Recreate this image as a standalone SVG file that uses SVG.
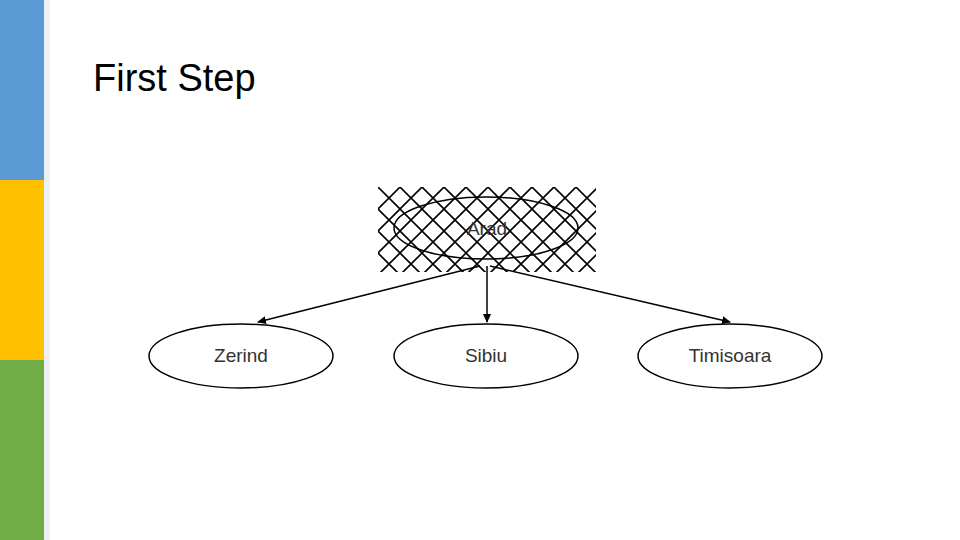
<svg xmlns="http://www.w3.org/2000/svg" width="960" height="540" viewBox="0 0 960 540">
<defs>
<pattern id="hatch" patternUnits="userSpaceOnUse" x="378" y="187" width="22" height="22">
<path d="M0,0 L22,22 M22,0 L0,22" stroke="#000" stroke-width="1.6"/>
</pattern>
<marker id="arr" markerWidth="10" markerHeight="10" refX="8" refY="5" orient="auto" markerUnits="userSpaceOnUse">
<path d="M0,1 L9,5 L0,9 Z" fill="#000"/>
</marker>
<style>
.n{fill:#fff;stroke:#000;stroke-width:1.5}
.t{font-family:"Liberation Sans",Arial,sans-serif;font-size:19px;fill:#333;text-anchor:middle}
.e{stroke:#000;stroke-width:1.5;fill:none}
</style>
</defs>
<rect width="960" height="540" fill="#fff"/>
<rect x="0" y="0" width="44" height="180" fill="#5b9bd5"/>
<rect x="0" y="180" width="44" height="180" fill="#ffc000"/>
<rect x="0" y="360" width="44" height="180" fill="#70ad47"/>
<rect x="44" y="0" width="6" height="540" fill="#dde7f0" opacity="0.6"/>
<text x="93" y="91" font-family="Liberation Sans,Arial,sans-serif" font-size="38" fill="#000">First Step</text>
<g id="connectors">
<line class="e" x1="480" y1="266" x2="258" y2="322" marker-end="url(#arr)"/>
<line class="e" x1="487" y1="266" x2="487" y2="322" stroke-width="2.5" marker-end="url(#arr)"/>
<line class="e" x1="490" y1="266" x2="730" y2="322" marker-end="url(#arr)"/>
</g>
<g id="arad">
<rect x="378" y="187" width="218" height="85" fill="url(#hatch)"/>
<ellipse cx="486" cy="228" rx="92" ry="31" class="e"/>
<text class="t" x="487" y="235" fill="#888">Arad</text>
</g>
<g id="zerind"><ellipse class="n" cx="241" cy="356" rx="92" ry="32"/><text class="t" x="241" y="362">Zerind</text></g>
<g id="sibiu"><ellipse class="n" cx="486" cy="356" rx="92" ry="32"/><text class="t" x="486" y="362">Sibiu</text></g>
<g id="timisoara"><ellipse class="n" cx="730" cy="356" rx="92" ry="32"/><text class="t" x="730" y="362">Timisoara</text></g>
</svg>
